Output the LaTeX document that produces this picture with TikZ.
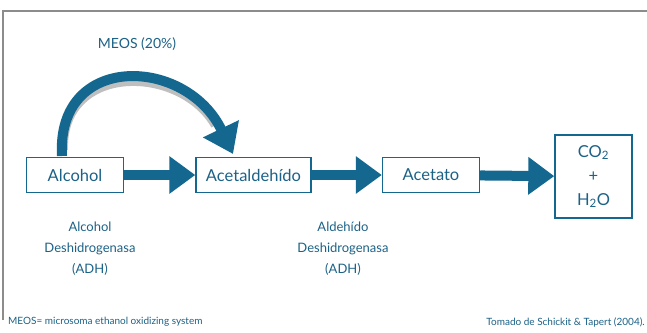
\documentclass[tikz,border=0pt]{standalone}
\usepackage{fontspec}
\setmainfont{Lato}
\usetikzlibrary{arrows.meta}
\definecolor{mblue}{RGB}{20,104,144}
\definecolor{tblue}{RGB}{28,98,135}
\definecolor{frame}{RGB}{140,140,140}
\begin{document}
\begin{tikzpicture}[x=1pt,y=-1pt,
  box/.style={draw=mblue,line width=1.4pt,fill=white,text=tblue,font=\fontsize{16.5}{24}\selectfont,inner sep=0pt,align=center},
  bigarrow/.style={draw=mblue,line width=10pt,-{Triangle[width=36pt,length=26pt]}},
  lbl/.style={text=tblue,font=\fontsize{13}{21}\selectfont,align=center,inner sep=0pt},
  foot/.style={text=tblue,font=\fontsize{10}{12}\selectfont,inner sep=0pt}]
\useasboundingbox[fill=white] (0,0) rectangle (647,332);
\draw[frame,line width=1.5pt] (3,320) -- (3,11) -- (647,11);
% boxes
\node[box,minimum width=97pt,minimum height=35pt] (alcohol) at (75,175) {Alcohol};
\node[box,minimum width=115pt,minimum height=35pt] (acet) at (253.5,175) {Acetaldehído};
\node[box,minimum width=97pt,minimum height=35pt] (acetato) at (431,175) {Acetato};
\node[box,minimum width=77pt,minimum height=83pt] (co2) at (593.5,176.5) {CO\textsubscript{2}\\+\\H\textsubscript{2}O};
% horizontal arrows
\draw[bigarrow] (alcohol) -- (acet);
\draw[bigarrow] (acet) -- (acetato);
\draw[bigarrow] (acetato) -- (co2);
% MEOS arc
\coordinate (arcstart) at (62,156);
\coordinate (arcend) at (233,154);
\draw[draw=black!25,line width=6pt] (65,150) .. controls (62,64) and (180,66) .. (214,126);
\draw[draw=mblue,line width=10pt,-{Triangle[width=38pt,length=28pt]}] (arcstart) .. controls (56,52) and (186,56) .. (arcend);
\node[text=tblue,font=\fontsize{14}{16}\selectfont,inner sep=0pt] (meos) at (137,44) {MEOS (20\%)};
% enzyme labels
\node[lbl] (adh1) at (90,249) {Alcohol\\Deshidrogenasa\\(ADH)};
\node[lbl] (adh2) at (343,249) {Aldehído\\Deshidrogenasa\\(ADH)};
% footer
\node[foot,anchor=west] (note) at (8,322) {MEOS= microsoma ethanol oxidizing system};
\node[foot,anchor=east] (src) at (645,322) {Tomado de Schickit \& Tapert (2004).};
\end{tikzpicture}
\end{document}
